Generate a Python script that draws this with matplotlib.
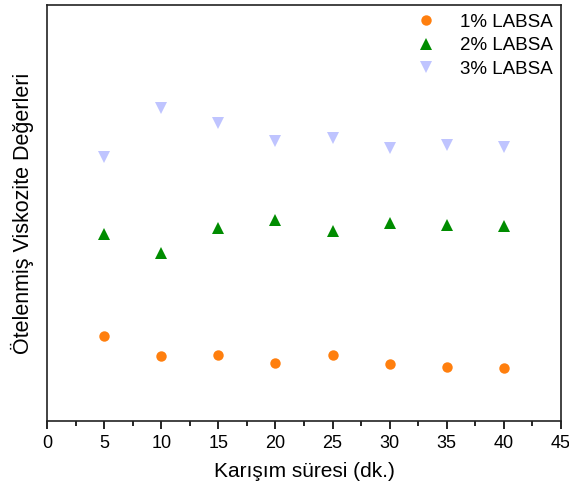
import matplotlib
matplotlib.use("Agg")
import matplotlib.pyplot as plt
from matplotlib.ticker import MultipleLocator

plt.rcParams['font.family'] = ['Liberation Sans', 'DejaVu Sans']

x = [5, 10, 15, 20, 25, 30, 35, 40]
labsa1 = [85, 65, 66, 58, 66, 57, 54, 53]
labsa2 = [187, 168, 193, 201, 190, 198, 196, 195]
labsa3 = [264, 313, 298, 280, 283, 273, 276, 274]
labels = ['1% LABSA', '2% LABSA', '3% LABSA']

fig = plt.figure(figsize=(5.69, 4.87), dpi=100)
ax = fig.add_axes([47/569, 66/487, 514/569, 416/487])

ax.plot(x, labsa1, 'o', color='#FF7F0E', markersize=7.5, markeredgewidth=0, label=labels[0])
ax.plot(x, labsa2, '^', color='#008C00', markersize=8.5, markeredgewidth=0, label=labels[1])
ax.plot(x, labsa3, 'v', color='#BFC4FF', markersize=8.5, markeredgewidth=0, label=labels[2])

ax.set_xlim(0, 45)
ax.set_ylim(0, 416)
ax.xaxis.set_major_locator(MultipleLocator(5))
ax.xaxis.set_minor_locator(MultipleLocator(2.5))
ax.set_yticks([])
ax.tick_params(axis='x', which='major', length=6, width=1.2, direction='out', labelsize=13, pad=4)
ax.tick_params(axis='x', which='minor', length=3.5, width=1.2, direction='out')
for s in ax.spines.values():
    s.set_linewidth(1.2)
    s.set_color('#222222')

ax.set_xlabel('Karışım süresi (dk.)', fontsize=15, labelpad=7)
ax.set_ylabel('Ötelenmiş Viskozite Değerleri', fontsize=15.5, labelpad=9)

ax.legend(loc='upper right', frameon=False, fontsize=13.5, handletextpad=0.8,
          labelspacing=0.35, borderaxespad=0.05, bbox_to_anchor=(1.0, 1.0))

fig.savefig('out.png', dpi=100)
